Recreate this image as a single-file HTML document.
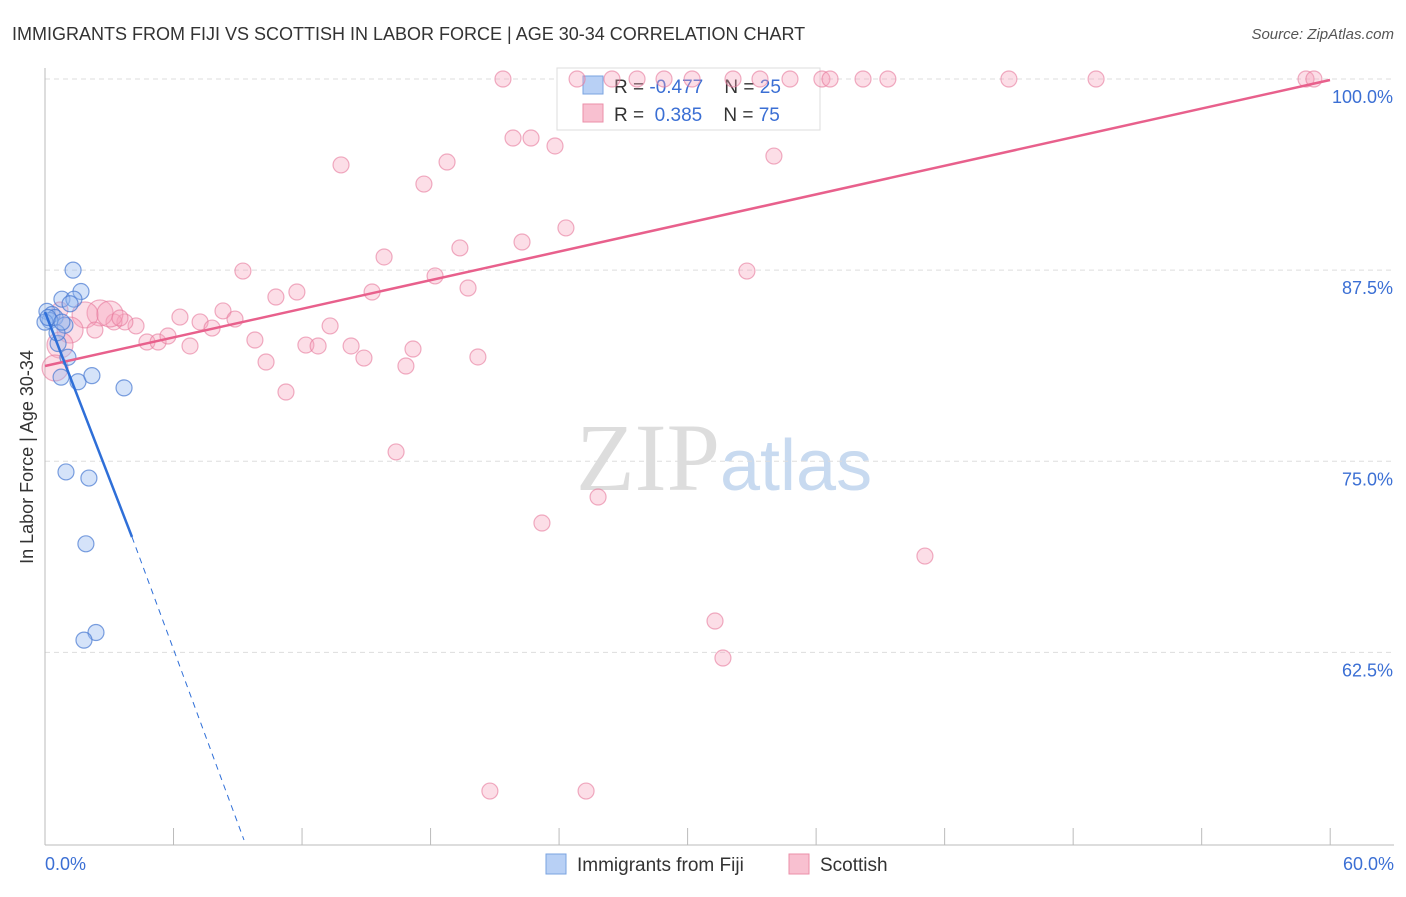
<!DOCTYPE html>
<html><head><meta charset="utf-8"><style>
body{margin:0;background:#fff;font-family:"Liberation Sans",sans-serif}
</style></head><body>
<svg id="c" width="1406" height="892" xmlns="http://www.w3.org/2000/svg" style="font-family:'Liberation Sans',sans-serif">
<text x="12" y="40" font-size="18" fill="#333">IMMIGRANTS FROM FIJI VS SCOTTISH IN LABOR FORCE | AGE 30-34 CORRELATION CHART</text>
<text x="1394" y="39" font-size="15" fill="#555" text-anchor="end" font-style="italic">Source: ZipAtlas.com</text>
<text x="720" y="490" font-size="96" fill="#ddd" text-anchor="end" font-family="Liberation Serif">ZIP</text>
<text x="720" y="490" font-size="72" fill="#c8daf0">atlas</text>
<g id="grid"></g>
<g>
<rect x="557" y="68" width="263" height="62" fill="#fff" stroke="#ddd"/>
<rect x="583" y="76" width="20" height="18" fill="#b8d0f5" stroke="#7aa3e0"/>
<rect x="583" y="104" width="20" height="18" fill="#f8c0d0" stroke="#eb8fa9"/>
<text x="614" y="93" font-size="19" fill="#333" xml:space="preserve">R = <tspan fill="#3b6fd4">-0.477</tspan>    N = <tspan fill="#3b6fd4">25</tspan></text>
<text x="614" y="121" font-size="19" fill="#333" xml:space="preserve">R =  <tspan fill="#3b6fd4">0.385</tspan>    N = <tspan fill="#3b6fd4">75</tspan></text>
</g>
<g id="marks"></g>
<text transform="translate(33,457) rotate(-90)" font-size="18" fill="#333" text-anchor="middle">In Labor Force | Age 30-34</text>
<g>
<rect x="546" y="854" width="20" height="20" fill="#b8d0f5" stroke="#7aa3e0"/>
<text x="577" y="871" font-size="19" fill="#333">Immigrants from Fiji</text>
<rect x="789" y="854" width="20" height="20" fill="#f8c0d0" stroke="#eb8fa9"/>
<text x="820" y="871" font-size="19" fill="#333">Scottish</text>
</g>
</svg>
<script>
const yTicks=[100,87.5,75,62.5];
const yTickLabels=["100.0%","87.5%","75.0%","62.5%"];
const xTickLabels=["0.0%","60.0%"];
const fijiX=[1.31,0.79,1.68,1.35,0.09,0.33,0.47,0.93,0.61,1.07,0.75,1.54,2.19,3.69,0.98,2.05,1.91,2.38,1.82,0.23,0,1.17,0.56,0.14,0.79];
const fijiY=[87.5,85.6,86.1,85.6,84.8,84.6,84.4,83.9,82.7,81.8,80.5,80.2,80.6,79.8,74.3,73.9,69.6,63.8,63.3,84.2,84.1,85.3,83.4,84.4,84.1];
const scotX=[21.38,24.84,26.47,27.64,28.9,30.21,32.12,33.38,34.78,36.27,36.65,38.19,39.35,45.0,49.07,58.87,59.24,
13.82,18.77,17.69,21.85,22.69,23.81,34.03,24.32,19.37,22.27,15.83,9.24,32.77,18.21,19.75,15.27,11.76,10.78,8.31,6.3,8.87,7.24,7.8,4.25,3.73,3.22,13.31,9.8,4.76,5.28,5.74,6.77,12.18,12.75,14.29,14.89,17.18,16.85,20.21,10.32,11.25,16.39,25.82,23.2,41.08,31.28,31.65,20.77,25.26,
2.57,1.87,1.17,0.7,0.47,3.03,2.33,0.7,3.5];
const scotY=[100,100,100,100,100,100,100,100,100,100,100,100,100,100,100,100,100,
94.38,94.57,93.13,96.14,96.14,95.62,94.96,90.26,88.95,89.34,88.36,87.44,87.44,87.12,86.33,86.07,86.07,85.74,84.83,84.43,84.3,84.11,83.71,83.85,84.11,84.11,83.85,82.93,82.8,82.8,83.19,82.54,82.6,82.54,82.54,81.75,82.34,81.23,81.82,81.49,79.53,75.61,72.66,70.96,68.8,64.55,62.13,53.43,53.43,
84.7,84.57,83.58,82.6,81.1,84.63,83.58,84.89,84.37];
const bigCount=6;
const X=v=>45+v*21.42, Y=v=>79+(100-v)*15.29;
const NS="http://www.w3.org/2000/svg";
function mk(t,a,p){const e=document.createElementNS(NS,t);for(const k in a)e.setAttribute(k,a[k]);p.appendChild(e);return e;}
const g=document.getElementById('grid'),m=document.getElementById('marks');
yTicks.forEach((t,i)=>{
 const l=mk('line',{x1:45,x2:1394,y1:Y(t),y2:Y(t),stroke:'#ddd','stroke-dasharray':'5,4'},g);
 
 
 const tx=mk('text',{x:1393,y:Y(t)+24,'font-size':18,fill:'#3b6fd4','text-anchor':'end'},g);
 tx.textContent=yTickLabels[i];
 
 
});
mk('line',{x1:45,x2:45,y1:68,y2:845,stroke:'#bbb'},g);
mk('line',{x1:45,x2:1394,y1:845,y2:845,stroke:'#bbb'},g);
for(let i=0;i<=10;i++){mk('line',{x1:X(i*6),x2:X(i*6),y1:828,y2:845,stroke:'#bbb'},g);}
[[0,'start',45],[1,'end',1394]].forEach(([i,a,x])=>{const t=mk('text',{x:x,y:870,'font-size':18,fill:'#3b6fd4','text-anchor':a},g);t.textContent=xTickLabels[i];
 
 });
const nBigStart=scotX.length-9;
scotX.forEach((x,i)=>{const big=i>=nBigStart&&i<nBigStart+bigCount;
 const c=mk('circle',{cx:X(x),cy:Y(scotY[i]),r:big?13:8,fill:'rgba(245,160,185,0.35)',stroke:'rgba(230,120,155,0.6)','stroke-width':1.2},m);
 
 });
fijiX.forEach((x,i)=>{const c=mk('circle',{cx:X(x),cy:Y(fijiY[i]),r:8,fill:'rgba(150,185,240,0.4)',stroke:'rgba(70,120,210,0.7)','stroke-width':1.2},m);
 
 });
let l=mk('line',{x1:45,y1:366,x2:1330,y2:80,stroke:'#e8608c','stroke-width':2.5},m);


l=mk('line',{x1:45,y1:312,x2:132,y2:537,stroke:'#2f6fd8','stroke-width':2.5},m);


l=mk('line',{x1:132,y1:537,x2:244,y2:840,stroke:'#2f6fd8','stroke-width':1,'stroke-dasharray':'6,5'},m);


</script>
</body></html>
